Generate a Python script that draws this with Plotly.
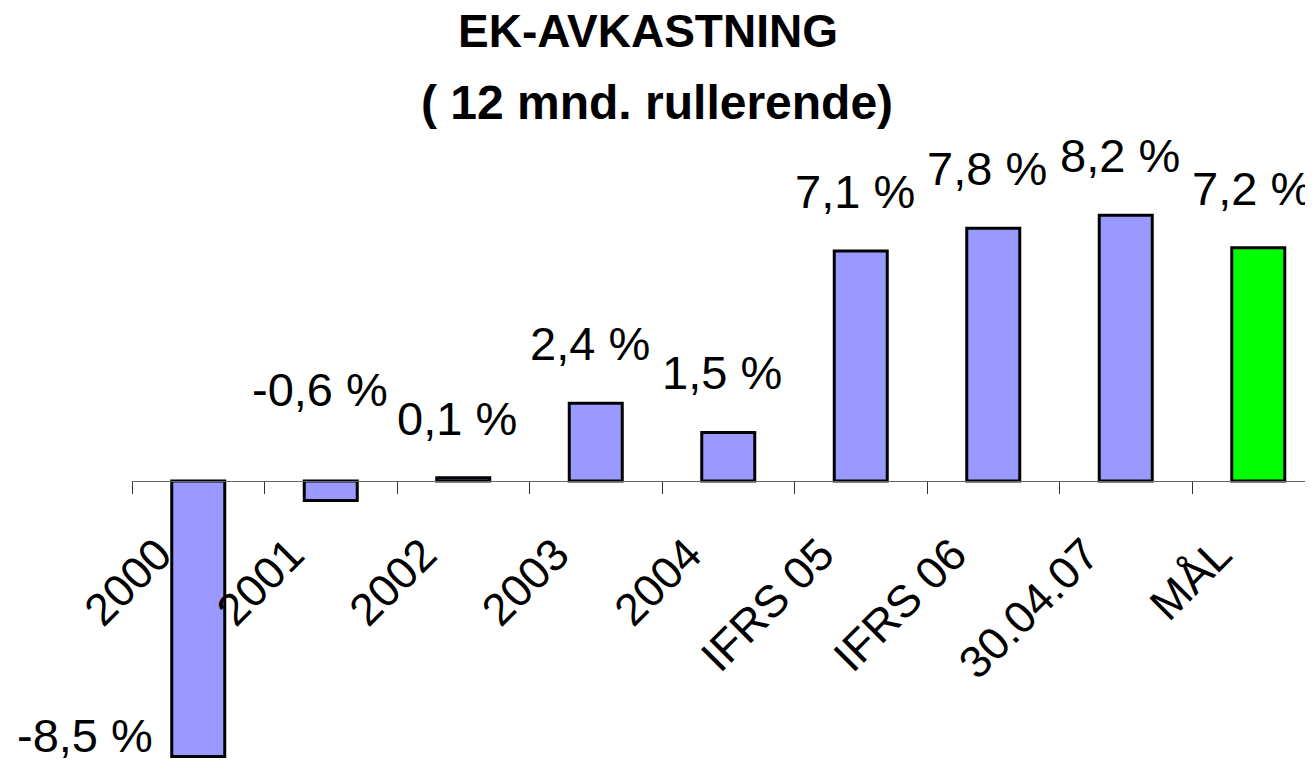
import plotly.graph_objects as go

# ---- data ----
categories = ["2000", "2001", "2002", "2003", "2004", "IFRS 05", "IFRS 06", "30.04.07", "MÅL"]
values = [-8.5, -0.6, 0.1, 2.4, 1.5, 7.1, 7.8, 8.2, 7.2]
is_target = [False, False, False, False, False, False, False, False, True]
title_line1 = "EK-AVKASTNING"
title_line2 = "( 12 mnd. rullerende)"

# ---- styling / layout ----
# The page body adds an 8 px margin, so the figure is sized to the visible area.
PAGE_OFFSET = 8
W, H = 1313 - PAGE_OFFSET, 762 - PAGE_OFFSET
FONT = "Liberation Sans, Arial, sans-serif"
BAR_BLUE = "#9999FF"
BAR_GREEN = "#00FF00"
plot_left = 132 - PAGE_OFFSET    # px, left boundary of the category axis
cat_px = 132.5                   # px per category
zero_px = 481 - PAGE_OFFSET      # px from top where y = 0 sits
unit_px = 32.4                   # px per percentage point

ymax = zero_px / unit_px
ymin = -(H - zero_px) / unit_px
xmax = -0.5 + (W - plot_left) / cat_px
page_center_paper = (1313 / 2 - PAGE_OFFSET - plot_left) / (W - plot_left)

def fmt(v):
    return f"{v:.1f}".replace(".", ",") + " %"

colors = [BAR_GREEN if t else BAR_BLUE for t in is_target]

fig = go.Figure(
    go.Bar(
        x=categories,
        y=values,
        width=0.4,
        marker=dict(color=colors, line=dict(color="black", width=3)),
        hoverinfo="skip",
    )
)

annotations = []
for i, v in enumerate(values):
    if v <= -5:
        annotations.append(dict(x=i, y=v, text=fmt(v), xanchor="right", yanchor="bottom",
                                xshift=-43, yshift=-8, showarrow=False))
    elif v < 0:
        annotations.append(dict(x=i, y=0, text=fmt(v), xanchor="center", yanchor="bottom",
                                xshift=-11, yshift=63, showarrow=False))
    else:
        annotations.append(dict(x=i, y=v, text=fmt(v), xanchor="center", yanchor="bottom",
                                xshift=-6, yshift=31, showarrow=False))
for a in annotations:
    a["font"] = dict(family=FONT, size=47, color="black")

annotations.append(dict(
    x=page_center_paper, xref="paper", y=1 - 123 / H, yref="paper", yanchor="bottom",
    xanchor="center",
    text="<b>" + title_line2 + "</b>", showarrow=False,
    font=dict(family=FONT, size=48, color="black"),
))

fig.update_layout(
    width=W, height=H,
    margin=dict(l=plot_left, r=0, t=0, b=0, autoexpand=False),
    paper_bgcolor="white", plot_bgcolor="white",
    showlegend=False,
    title=dict(text="<b>" + title_line1 + "</b>",
               x=(648 - PAGE_OFFSET) / W, xref="container", xanchor="center",
               y=1 - 7 / H, yref="container", yanchor="top",
               font=dict(family=FONT, size=46, color="black")),
    annotations=annotations,
    xaxis=dict(
        type="category",
        range=[-0.5, xmax],
        anchor="free",
        position=(0 - ymin) / (ymax - ymin),
        automargin=False,
        showline=True, linecolor="#666666", linewidth=1,
        ticks="outside", ticklen=12, tickcolor="#333333", tickwidth=1,
        tickson="boundaries",
        tickangle=-45,
        tickfont=dict(family=FONT, size=45, color="black"),
        ticklabelstandoff=28,
        ticklabelshift=-40,
        showgrid=False, zeroline=False,
        fixedrange=True,
    ),
    yaxis=dict(range=[ymin, ymax], visible=False, showgrid=False, zeroline=False,
               fixedrange=True, automargin=False),
)

fig.write_html("out.html")
